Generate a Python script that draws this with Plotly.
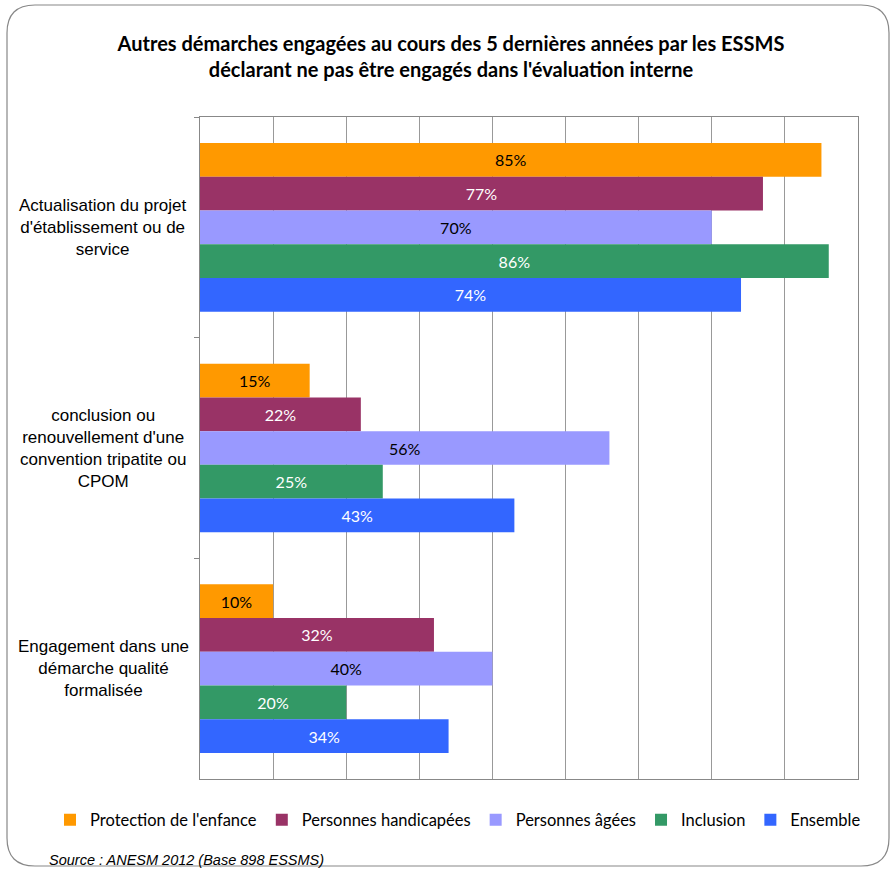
import plotly.graph_objects as go

categories = [
    "Actualisation du projet<br>d'établissement ou de<br>service",
    "conclusion ou<br>renouvellement d'une<br>convention tripatite ou<br>CPOM",
    "Engagement dans une<br>démarche qualité<br>formalisée",
]
series_names = ["Protection de l'enfance", "Personnes handicapées", "Personnes âgées", "Inclusion", "Ensemble"]
protection = [85, 15, 10]
handicapees = [77, 22, 32]
agees = [70, 56, 40]
inclusion = [86, 25, 20]
ensemble = [74, 43, 34]
series_values = [protection, handicapees, agees, inclusion, ensemble]
colors = ["#FF9900", "#993366", "#9999FF", "#339966", "#3366FF"]
text_colors = ["black", "white", "black", "white", "white"]

W, H = 891, 869
ML, MR, MT, MB = 200, 33, 117, 90
PW, PH = W - ML - MR, H - MT - MB

def px(x):
    return (x - ML) / PW

def py(y):
    return (H - MB - y) / PH

fig = go.Figure()
for name, vals, c, tc in zip(series_names, series_values, colors, text_colors):
    fig.add_trace(go.Bar(
        y=categories, x=[v / 100 for v in vals], name=name, orientation="h",
        marker=dict(color=c, line=dict(width=0)),
        text=[f"{v}%" for v in vals], textposition="inside", insidetextanchor="middle",
        textfont=dict(color=tc, size=16, family="Lato"),
        hoverinfo="skip",
    ))

for cat in categories:
    fig.add_annotation(x=px(103), xref="paper", y=cat, yref="y", text=cat,
                       showarrow=False, align="center", xanchor="center", yanchor="middle",
                       font=dict(family="Liberation Sans", size=17, color="black"))

fig.add_annotation(x=px(47), xref="paper", y=py(860), yref="paper",
                   text="<i>Source : ANESM 2012 (Base 898 ESSMS)</i>", showarrow=False,
                   xanchor="left", yanchor="middle",
                   font=dict(family="Liberation Sans", size=14.5, color="black"))

# rounded chart border
x0, y0, x1, y1, r = 7, 5, 889, 866, 28
path = (f"M {px(x0+r)},{py(y0)} L {px(x1-r)},{py(y0)} Q {px(x1)},{py(y0)} {px(x1)},{py(y0+r)} "
        f"L {px(x1)},{py(y1-r)} Q {px(x1)},{py(y1)} {px(x1-r)},{py(y1)} "
        f"L {px(x0+r)},{py(y1)} Q {px(x0)},{py(y1)} {px(x0)},{py(y1-r)} "
        f"L {px(x0)},{py(y0+r)} Q {px(x0)},{py(y0)} {px(x0+r)},{py(y0)} Z")
fig.add_shape(type="path", path=path, xref="paper", yref="paper",
              line=dict(color="#888888", width=1.2), layer="below")

fig.update_layout(
    width=W, height=H,
    margin=dict(l=ML, r=MR, t=MT, b=MB),
    paper_bgcolor="white", plot_bgcolor="white",
    barmode="group", bargap=0.236, bargroupgap=0,
    title=dict(text="Autres démarches engagées au cours des 5 dernières années par les ESSMS<br>déclarant ne pas être engagés dans l'évaluation interne",
               x=451 / W, xref="container", xanchor="center", y=1 - 51 / H, yref="container", yanchor="middle",
               font=dict(family="Lato", size=20, color="black", weight="bold")),
    xaxis=dict(range=[0, 0.9], dtick=0.1, showticklabels=False, showgrid=True,
               gridcolor="#999999", gridwidth=1, zeroline=False,
               showline=True, linecolor="#888888", linewidth=1, mirror=True, ticks=""),
    yaxis=dict(autorange="reversed", showticklabels=False, showgrid=False,
               showline=True, linecolor="#888888", linewidth=1, mirror=True,
               ticks="outside", tickson="boundaries", ticklen=5, tickcolor="#888888"),
    legend=dict(orientation="h", x=px(50), xanchor="left", y=py(820), yanchor="middle",
                font=dict(family="Lato", size=16.5, color="black"), traceorder="normal",
                itemwidth=30, tracegroupgap=0),
    showlegend=True,
)

fig.write_html("out.html")
